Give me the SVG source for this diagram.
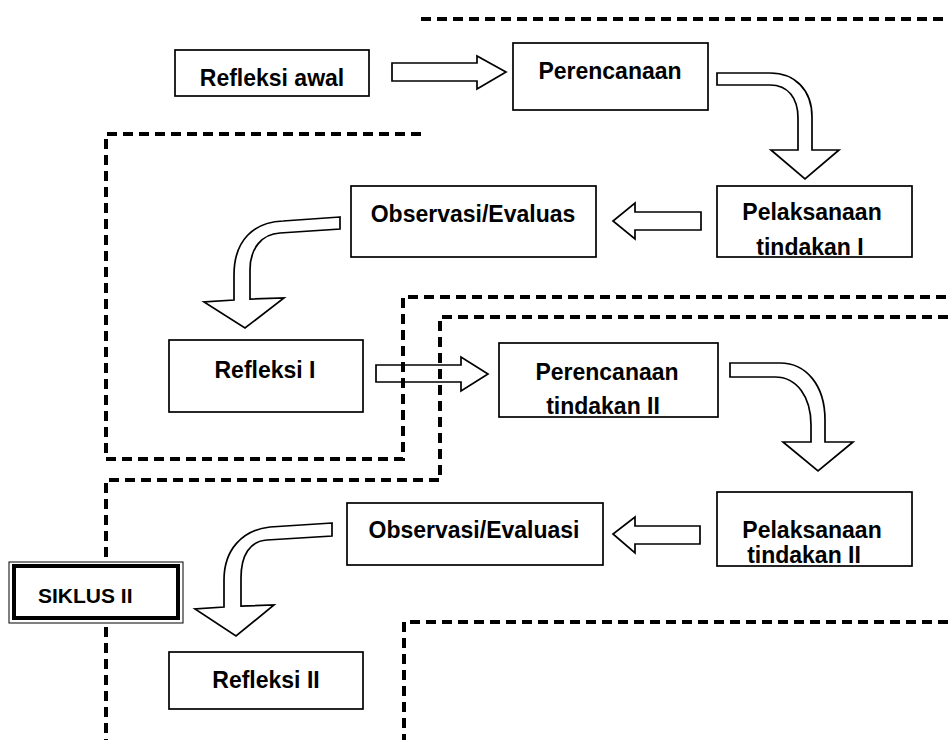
<svg xmlns="http://www.w3.org/2000/svg" width="948" height="740" viewBox="0 0 948 740">
<style>
.box{fill:#fff;stroke:#000;stroke-width:1.7}
.t{font-family:"Liberation Sans",Arial,sans-serif;font-weight:bold;font-size:23px;fill:#000;text-anchor:middle}
.arr{fill:#fff;stroke:#000;stroke-width:1.7;stroke-linejoin:miter}
.dash{fill:none;stroke:#000;stroke-width:4;stroke-dasharray:10 6}
</style>
<rect width="948" height="740" fill="#fff"/>
<g id="connectors">
<path class="arr" d="M392,63 L477,63 L477,56 L506,72 L477,89 L477,81 L392,81 Z"/>
<path class="arr" d="M717,73 L770,73 C795,73 812,90 812,117 L812,150 L839,150 L805,179 L771,150 L798,150 L798,118 C798,98 788,85 770,85 L717,85 Z"/>
<path class="arr" d="M701,212 L635,212 L635,203 L613,221 L635,239 L635,230 L701,230 Z"/>
<path class="arr" d="M340,217 L283,221 C254,222 234,240 234,275 L234,300 L204,302 L245,328 L284,298 L250,299 L250,270 C250,248 262,234 280,233 L340,229 Z"/>
<path class="arr" d="M376,365 L461,365 L461,357 L488,374 L461,391 L461,382 L376,382 Z"/>
<path class="arr" d="M730,363 L780,363 C806,363 825,385 825,420 L825,442 L853,442 L818,471 L783,442 L811,442 L811,425 C811,397 797,377 775,377 L730,377 Z"/>
<path class="arr" d="M700,526 L635,526 L635,517 L613,534 L635,553 L635,544 L700,544 Z"/>
<path class="arr" d="M332,523 L270,527 C242,530 224,550 224,580 L224,607 L195,609 L236,636 L274,605 L241,606 L241,578 C241,555 250,541 267,540 L332,536 Z"/>
</g>
<g id="boundaries">
<path class="dash" d="M421,19 L948,19"/>
<path class="dash" d="M421,134 L106,134 L106,459 L403,459 L403,297 L948,297"/>
<path class="dash" d="M948,317 L440,317 L440,480 L106,480 L106,740"/>
<path class="dash" d="M948,622 L404,622 L404,740"/>
</g>
<g id="refleksi-awal">
<rect class="box" x="175" y="50" width="194" height="46"/>
<text class="t" x="272" y="86">Refleksi awal</text>
</g>
<g id="perencanaan">
<rect class="box" x="513" y="43" width="195" height="67"/>
<text class="t" x="610" y="79">Perencanaan</text>
</g>
<g id="pelaksanaan-1">
<rect class="box" x="717" y="186" width="195" height="71"/>
<text class="t" x="812" y="220">Pelaksanaan</text>
<text class="t" x="810" y="255">tindakan I</text>
</g>
<g id="observasi-1">
<rect class="box" x="351" y="186" width="245" height="71"/>
<text class="t" x="473" y="222">Observasi/Evaluas</text>
</g>
<g id="refleksi-1">
<rect class="box" x="169" y="340" width="194" height="72"/>
<text class="t" x="265" y="378">Refleksi I</text>
</g>
<g id="perencanaan-2">
<rect class="box" x="499" y="343" width="219" height="74"/>
<text class="t" x="607" y="380">Perencanaan</text>
<text class="t" x="603" y="414">tindakan II</text>
</g>
<g id="pelaksanaan-2">
<rect class="box" x="717" y="492" width="195" height="74"/>
<text class="t" x="812" y="538">Pelaksanaan</text>
<text class="t" x="804" y="563">tindakan II</text>
</g>
<g id="observasi-2">
<rect class="box" x="347" y="503" width="256" height="62"/>
<text class="t" x="474" y="538">Observasi/Evaluasi</text>
</g>
<g id="siklus-2">
<rect x="9" y="562" width="174" height="61" fill="#fff" stroke="#000" stroke-width="1"/>
<rect x="14" y="566" width="164" height="52" fill="none" stroke="#000" stroke-width="4"/>
<text class="t" x="38" y="603" style="text-anchor:start;font-size:21px">SIKLUS II</text>
</g>
<g id="refleksi-2">
<rect class="box" x="169" y="652" width="194" height="57"/>
<text class="t" x="266" y="688">Refleksi II</text>
</g>
</svg>
